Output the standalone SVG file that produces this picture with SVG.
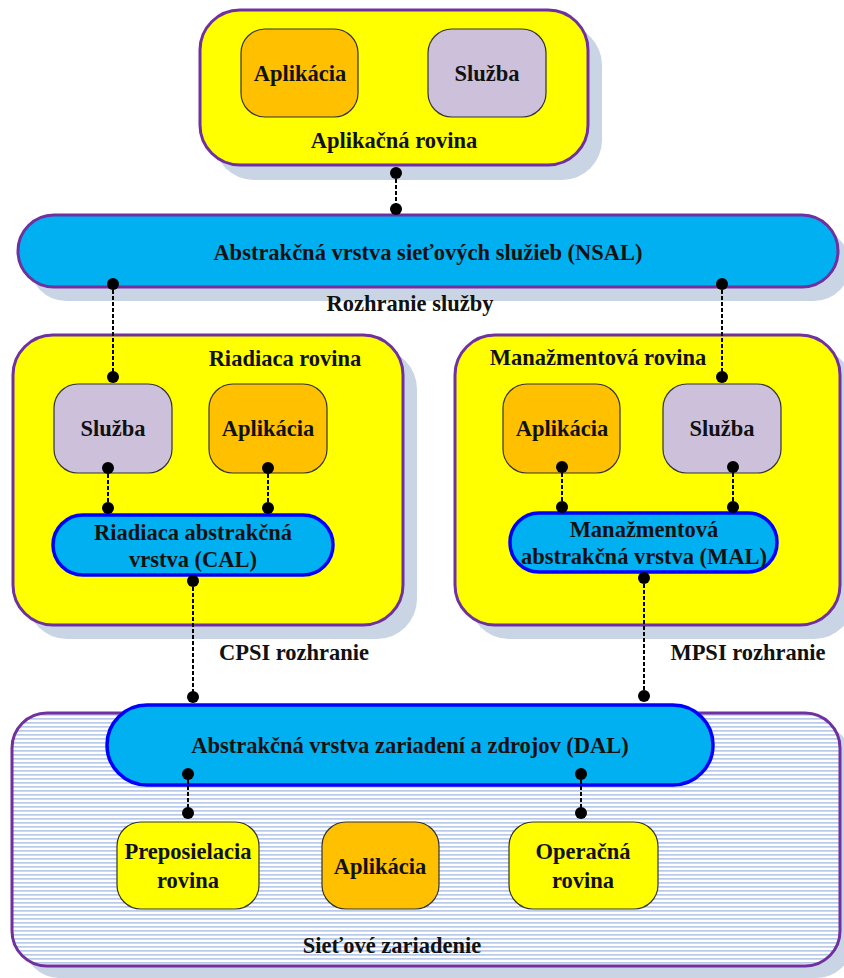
<svg xmlns="http://www.w3.org/2000/svg" width="844" height="978" viewBox="0 0 844 978">
<defs>
<pattern id="stripes" x="0" y="713" width="8" height="4" patternUnits="userSpaceOnUse">
<rect x="0" y="0" width="8" height="4" fill="#ffffff"/>
<rect x="0" y="1" width="8" height="1.7" fill="#b9cae8"/>
</pattern>
</defs>
<style>
text{font-family:"Liberation Serif","Times New Roman",serif;font-weight:bold;font-size:22.5px;fill:#111;text-anchor:middle;dominant-baseline:central}
.shadow{fill:#c9d4e4}
.plane{fill:#ffff00;stroke:#7030a0;stroke-width:3}
.nsal{fill:#00b0f0;stroke:#7030a0;stroke-width:3}
.abs{fill:#00b0f0;stroke:#0000ff;stroke-width:3.5}
.app{fill:#ffc000;stroke:#333;stroke-width:1.2}
.svc{fill:#ccc0da;stroke:#333;stroke-width:1.2}
.fwd{fill:#ffff00;stroke:#333;stroke-width:1.2}
.dev{fill:url(#stripes);stroke:#7030a0;stroke-width:3}
.conn line{stroke:#000;stroke-width:2;stroke-dasharray:4 2}
.conn circle{fill:#000}
</style>

<g id="app-plane">
<rect class="shadow" x="214" y="25" width="388" height="155" rx="40"/>
<rect class="plane" x="200" y="10" width="388" height="155" rx="40"/>
<g id="app-plane-app"><rect class="app" x="241" y="29" width="117" height="88" rx="24"/><text x="300" y="73">Aplikácia</text></g>
<g id="app-plane-svc"><rect class="svc" x="428" y="29" width="118" height="88" rx="24"/><text x="487" y="73">Služba</text></g>
<text x="394" y="140">Aplikačná rovina</text>
</g>

<g id="nsal">
<rect class="shadow" x="30" y="229" width="820" height="72" rx="36"/>
<rect class="nsal" x="18" y="215" width="820" height="72" rx="36"/>
<text x="428" y="252">Abstrakčná vrstva sieťových služieb (NSAL)</text>
</g>
<text id="service-interface" x="410" y="303">Rozhranie služby</text>

<g id="control-plane">
<rect class="shadow" x="27" y="349" width="390" height="290" rx="40"/>
<rect class="plane" x="13" y="335" width="390" height="290" rx="40"/>
<text x="285" y="358">Riadiaca rovina</text>
<g id="cp-svc"><rect class="svc" x="54" y="384" width="118" height="89" rx="24"/><text x="113" y="428">Služba</text></g>
<g id="cp-app"><rect class="app" x="209" y="384" width="118" height="89" rx="24"/><text x="268" y="428">Aplikácia</text></g>
<g id="cal"><rect class="abs" x="53" y="515" width="280" height="60" rx="30"/><text x="193" y="532">Riadiaca abstrakčná</text><text x="193" y="559">vrstva (CAL)</text></g>
</g>

<g id="management-plane">
<rect class="shadow" x="469" y="349" width="385" height="290" rx="40"/>
<rect class="plane" x="455" y="335" width="385" height="290" rx="40"/>
<text x="598" y="357">Manažmentová rovina</text>
<g id="mp-app"><rect class="app" x="503" y="384" width="117" height="89" rx="24"/><text x="562" y="428">Aplikácia</text></g>
<g id="mp-svc"><rect class="svc" x="663" y="384" width="118" height="89" rx="24"/><text x="722" y="428">Služba</text></g>
<g id="mal"><rect class="abs" x="510" y="513" width="267" height="59" rx="29"/><text x="644" y="529">Manažmentová</text><text x="644" y="556">abstrakčná vrstva (MAL)</text></g>
</g>

<text id="cpsi" x="294" y="652">CPSI rozhranie</text>
<text id="mpsi" x="748" y="652">MPSI rozhranie</text>

<g id="network-device">
<rect class="shadow" x="24" y="725" width="828" height="253" rx="35"/>
<rect class="dev" x="12" y="713" width="828" height="253" rx="35"/>
<g id="dal"><rect class="abs" x="107" y="705" width="606" height="80" rx="40"/><text x="410" y="745">Abstrakčná vrstva zariadení a zdrojov (DAL)</text></g>
<g id="forwarding-plane"><rect class="fwd" x="117" y="822" width="142" height="87" rx="24"/><text x="188" y="851">Preposielacia</text><text x="188" y="880">rovina</text></g>
<g id="dev-app"><rect class="app" x="322" y="822" width="117" height="87" rx="24"/><text x="380" y="866">Aplikácia</text></g>
<g id="operational-plane"><rect class="fwd" x="509" y="822" width="149" height="87" rx="24"/><text x="583" y="851">Operačná</text><text x="583" y="880">rovina</text></g>
<text x="392" y="945">Sieťové zariadenie</text>
</g>

<g id="connectors" class="conn">
<line x1="396" y1="173" x2="396" y2="209"/><circle cx="396" cy="173" r="6"/><circle cx="396" cy="209" r="6"/>
<line x1="113" y1="284" x2="113" y2="377"/><circle cx="113" cy="284" r="6"/><circle cx="113" cy="377" r="6"/>
<line x1="722" y1="284" x2="722" y2="377"/><circle cx="722" cy="284" r="6"/><circle cx="722" cy="377" r="6"/>
<line x1="108" y1="468" x2="108" y2="508"/><circle cx="108" cy="468" r="6"/><circle cx="108" cy="508" r="6"/>
<line x1="268" y1="468" x2="268" y2="508"/><circle cx="268" cy="468" r="6"/><circle cx="268" cy="508" r="6"/>
<line x1="562" y1="467" x2="562" y2="507"/><circle cx="562" cy="467" r="6"/><circle cx="562" cy="507" r="6"/>
<line x1="733" y1="467" x2="733" y2="507"/><circle cx="733" cy="467" r="6"/><circle cx="733" cy="507" r="6"/>
<line x1="193" y1="581" x2="193" y2="697"/><circle cx="193" cy="581" r="6"/><circle cx="193" cy="697" r="6"/>
<line x1="644" y1="578" x2="644" y2="696"/><circle cx="644" cy="578" r="6"/><circle cx="644" cy="696" r="6"/>
<line x1="188" y1="774" x2="188" y2="813"/><circle cx="188" cy="774" r="6"/><circle cx="188" cy="813" r="6"/>
<line x1="581" y1="774" x2="581" y2="813"/><circle cx="581" cy="774" r="6"/><circle cx="581" cy="813" r="6"/>
</g>
</svg>
